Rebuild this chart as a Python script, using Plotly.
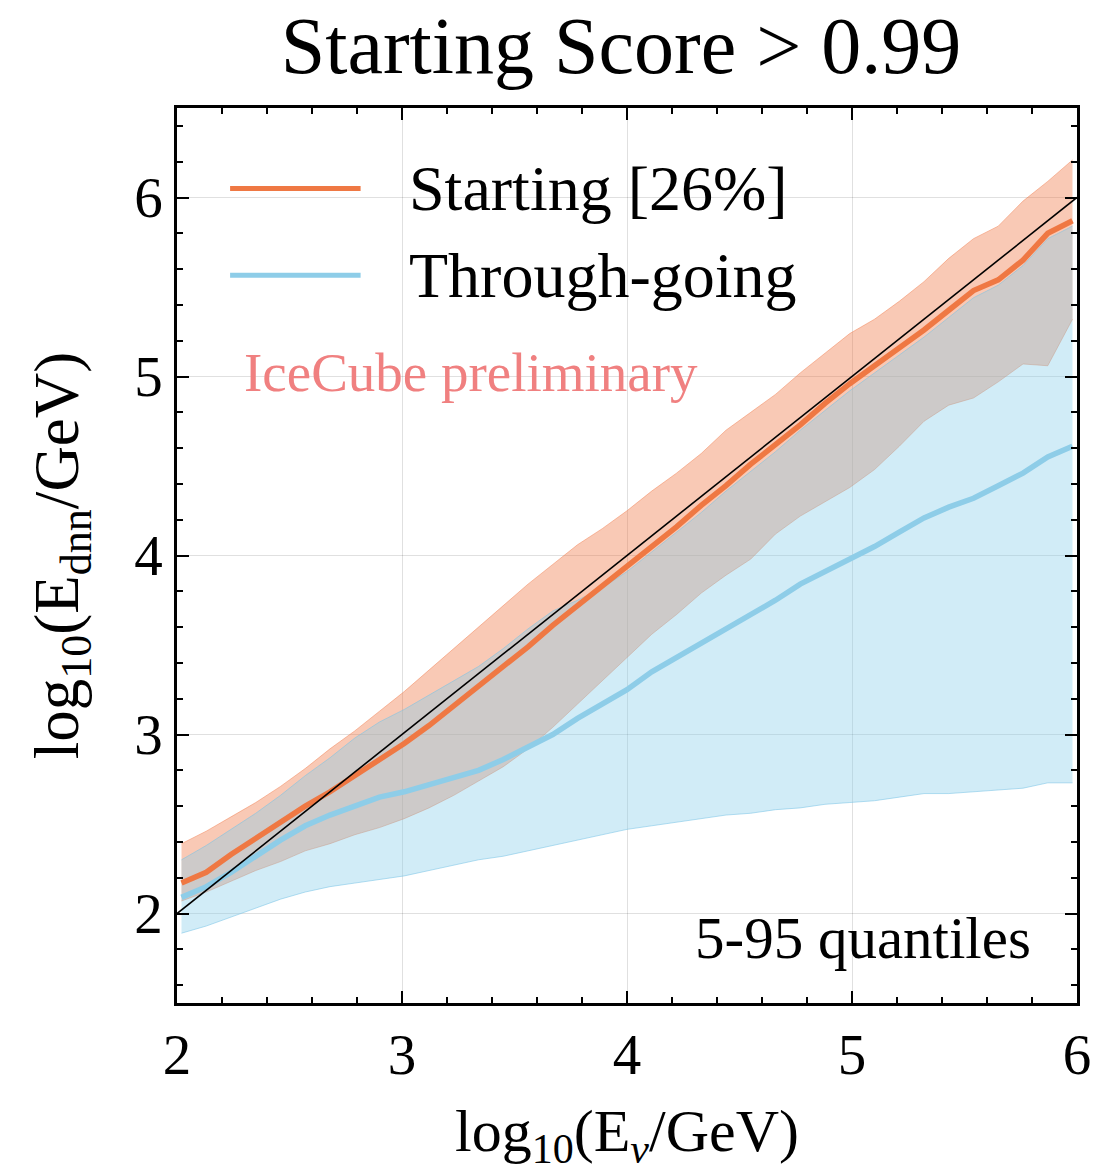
import plotly.graph_objects as go

# Bin centres in log10(E_nu / GeV)
log_e_nu = [2.02, 2.13, 2.24, 2.35, 2.46, 2.57, 2.68, 2.79, 2.90, 3.01,
            3.12, 3.23, 3.34, 3.45, 3.56, 3.67, 3.78, 3.89, 4.00, 4.11,
            4.22, 4.33, 4.44, 4.55, 4.66, 4.77, 4.88, 4.99, 5.10, 5.21,
            5.32, 5.43, 5.54, 5.65, 5.76, 5.87, 5.98]

# Starting events: median and 5 / 95 % quantiles of log10(E_dnn / GeV)
start_med = [2.17, 2.23, 2.33, 2.42, 2.51, 2.60, 2.68, 2.77, 2.86, 2.95,
             3.05, 3.16, 3.27, 3.38, 3.49, 3.61, 3.72, 3.83, 3.94, 4.05,
             4.16, 4.28, 4.39, 4.51, 4.62, 4.73, 4.85, 4.96, 5.06, 5.16,
             5.26, 5.37, 5.48, 5.54, 5.65, 5.80, 5.87]
start_q95 = [2.39, 2.46, 2.54, 2.62, 2.71, 2.81, 2.92, 3.02, 3.13, 3.24,
             3.36, 3.48, 3.60, 3.72, 3.84, 3.95, 4.06, 4.15, 4.25, 4.36,
             4.46, 4.57, 4.70, 4.80, 4.90, 5.02, 5.13, 5.24, 5.32, 5.42,
             5.53, 5.66, 5.77, 5.84, 5.98, 6.09, 6.21]
start_q05 = [2.07, 2.12, 2.18, 2.24, 2.29, 2.35, 2.39, 2.44, 2.48, 2.53,
             2.59, 2.66, 2.74, 2.82, 2.92, 3.04, 3.17, 3.30, 3.43, 3.56,
             3.67, 3.79, 3.89, 3.98, 4.12, 4.22, 4.30, 4.38, 4.48, 4.61,
             4.75, 4.84, 4.88, 4.97, 5.07, 5.06, 5.32]

# Through-going events: median and 5 / 95 % quantiles
thru_med = [2.09, 2.15, 2.23, 2.32, 2.41, 2.49, 2.55, 2.60, 2.65, 2.68,
            2.72, 2.76, 2.80, 2.86, 2.93, 3.00, 3.09, 3.17, 3.25, 3.35,
            3.43, 3.51, 3.59, 3.67, 3.75, 3.84, 3.91, 3.98, 4.05, 4.13,
            4.21, 4.27, 4.32, 4.39, 4.46, 4.55, 4.61]
thru_q95 = [2.30, 2.38, 2.47, 2.56, 2.66, 2.77, 2.87, 2.98, 3.07, 3.14,
            3.22, 3.30, 3.38, 3.48, 3.59, 3.69, 3.75, 3.82, 3.91, 4.02,
            4.13, 4.24, 4.36, 4.47, 4.58, 4.70, 4.81, 4.92, 5.02, 5.12,
            5.22, 5.33, 5.44, 5.51, 5.62, 5.77, 5.84]
thru_q05 = [1.89, 1.93, 1.98, 2.03, 2.08, 2.12, 2.15, 2.17, 2.19, 2.21,
            2.24, 2.27, 2.30, 2.32, 2.35, 2.38, 2.41, 2.44, 2.47, 2.49,
            2.51, 2.53, 2.55, 2.56, 2.58, 2.59, 2.61, 2.62, 2.63, 2.65,
            2.67, 2.67, 2.68, 2.69, 2.70, 2.73, 2.73]

# Perfect-reconstruction diagonal
diag = [2, 6]

tick_vals = [2, 3, 4, 5, 6]
tick_text = ["2", "3", "4", "5", "6"]

ORANGE = "#EF7843"
BLUE = "#8ECDE8"
ORANGE_FILL = "rgba(240,120,70,0.40)"
ORANGE_EDGE = "rgba(240,120,70,0.45)"
BLUE_FILL = "rgba(135,206,235,0.38)"
BLUE_EDGE = "rgba(120,195,230,0.55)"

SERIF = "Liberation Serif"

fig = go.Figure()

# Starting 5-95 band
fig.add_trace(go.Scatter(x=log_e_nu, y=start_q05, mode="lines",
                         line=dict(color=ORANGE_EDGE, width=1),
                         showlegend=False, hoverinfo="skip"))
fig.add_trace(go.Scatter(x=log_e_nu, y=start_q95, mode="lines",
                         line=dict(color=ORANGE_EDGE, width=1),
                         fill="tonexty", fillcolor=ORANGE_FILL,
                         showlegend=False, hoverinfo="skip"))
# Through-going 5-95 band
fig.add_trace(go.Scatter(x=log_e_nu, y=thru_q05, mode="lines",
                         line=dict(color=BLUE_EDGE, width=1),
                         showlegend=False, hoverinfo="skip"))
fig.add_trace(go.Scatter(x=log_e_nu, y=thru_q95, mode="lines",
                         line=dict(color=BLUE_EDGE, width=1),
                         fill="tonexty", fillcolor=BLUE_FILL,
                         showlegend=False, hoverinfo="skip"))
# Medians
fig.add_trace(go.Scatter(x=log_e_nu, y=start_med, mode="lines",
                         line=dict(color=ORANGE, width=5.5),
                         name="Starting [26%]", showlegend=False))
fig.add_trace(go.Scatter(x=log_e_nu, y=thru_med, mode="lines",
                         line=dict(color=BLUE, width=5.5),
                         name="Through-going", showlegend=False))
# Diagonal
fig.add_trace(go.Scatter(x=diag, y=diag, mode="lines",
                         line=dict(color="black", width=1.6),
                         showlegend=False, hoverinfo="skip"))

axis_common = dict(
    showline=True, linecolor="black", linewidth=2.5, mirror="allticks",
    ticks="inside", ticklen=12, tickwidth=2, tickcolor="black",
    showgrid=True, gridcolor="rgba(0,0,0,0.12)", gridwidth=1,
    zeroline=False,
    tickfont=dict(family=SERIF, size=57, color="black"),
    tickvals=tick_vals, ticktext=tick_text,
    minor=dict(dtick=0.2, ticks="inside", ticklen=6, tickwidth=1.5,
               tickcolor="black", showgrid=False),
)

fig.update_xaxes(range=[2, 6], **axis_common,
                 title=dict(text="log<sub>10</sub>(E<sub><i>ν</i></sub>/GeV)",
                            font=dict(family=SERIF, size=60, color="black"),
                            standoff=24))
fig.update_yaxes(range=[1.5, 6.5], **axis_common,
                 title=dict(text="log<sub>10</sub>(E<sub>dnn</sub>/GeV)",
                            font=dict(family=SERIF, size=63, color="black"),
                            standoff=36))

# Hand-built legend with long line keys
legend_rows = [("Starting [26%]", ORANGE, 0.910), ("Through-going", BLUE, 0.813)]
for label, color, yp in legend_rows:
    fig.add_shape(type="line", xref="paper", yref="paper",
                  x0=0.059, x1=0.204, y0=yp, y1=yp,
                  line=dict(color=color, width=5))
    fig.add_annotation(xref="paper", yref="paper", x=0.256, y=yp,
                       xanchor="left", yanchor="middle", showarrow=False,
                       text=label, font=dict(family=SERIF, size=64, color="black"))

fig.add_annotation(xref="paper", yref="paper", x=0.072, y=0.704,
                   xanchor="left", yanchor="middle", showarrow=False,
                   text="IceCube preliminary",
                   font=dict(family=SERIF, size=55, color="#F08080"))
fig.add_annotation(xref="paper", yref="paper", x=0.951, y=0.073,
                   xanchor="right", yanchor="middle", showarrow=False,
                   text="5-95 quantiles",
                   font=dict(family=SERIF, size=59, color="black"))

fig.update_layout(
    width=1119, height=1174,
    margin=dict(l=177, r=42, t=108, b=171),
    paper_bgcolor="white", plot_bgcolor="white",
    title=dict(text="Starting Score > 0.99", x=0.555, xanchor="center",
               y=0.962, yanchor="middle",
               font=dict(family=SERIF, size=80, color="black")),
    showlegend=False,
)

fig.write_html("out.html")
